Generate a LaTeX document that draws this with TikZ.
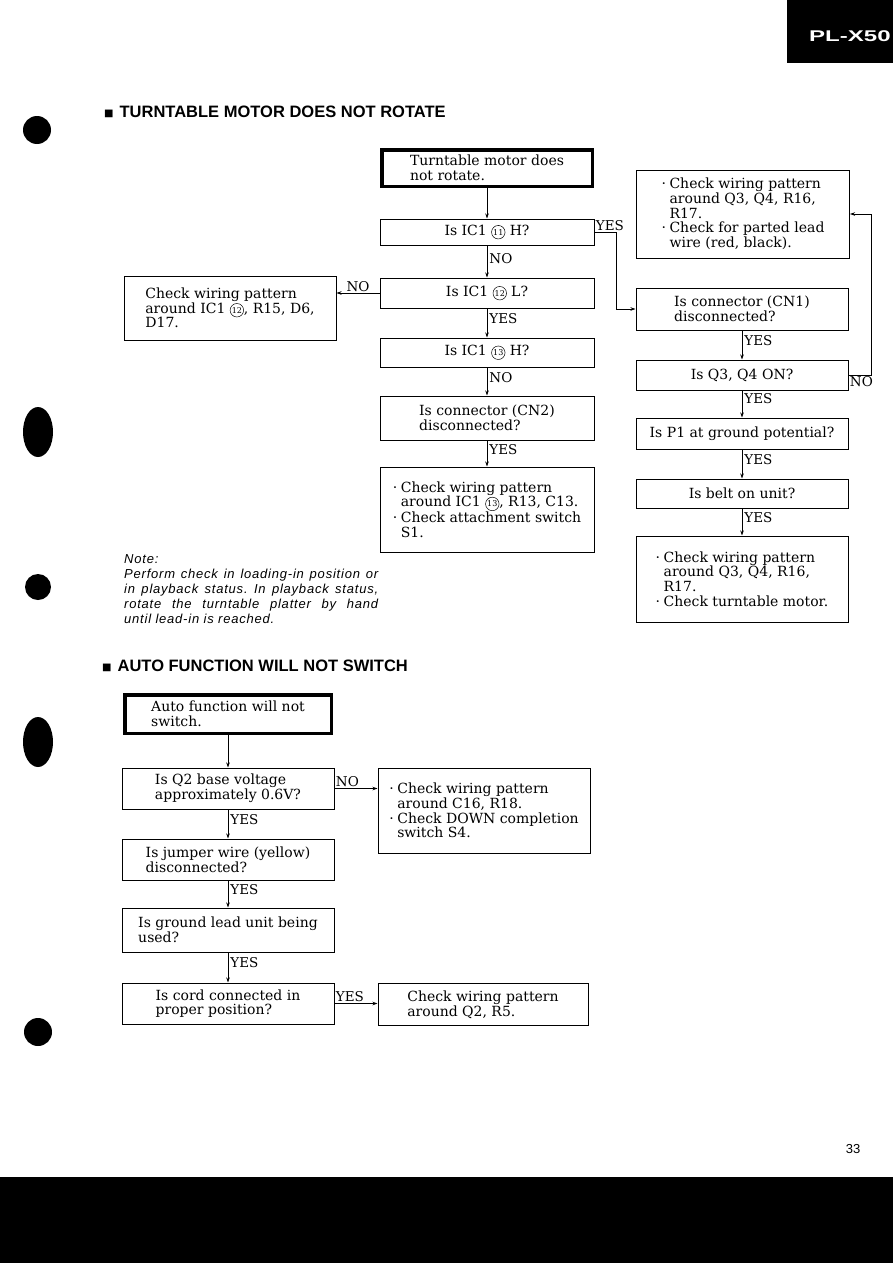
\documentclass[tikz,border=0pt]{standalone}
\usepackage{fontspec}
\setmainfont{DejaVu Serif}
\newfontfamily\headfont{Liberation Sans}
\newfontfamily\notefont[LetterSpace=6]{Liberation Sans}
\newfontfamily\symfont{DejaVu Sans}
\usetikzlibrary{arrows.meta}
\newcommand{\cn}[1]{\tikz[baseline=(cnn.base)]\node[circle,draw,line width=0.5pt,inner sep=0pt,minimum size=13.5pt,font=\fontsize{8}{8}\selectfont](cnn){#1};}
\newcommand{\bul}{\makebox[8pt][l]{·}}
\newcommand{\ind}{\hspace*{8pt}}
\newcommand{\sq}{{\symfont\fontsize{10}{10}\selectfont\raisebox{1.2pt}{■}}}
\tikzset{
  box/.style={draw, line width=1pt, inner sep=0pt, align=left, font=\fontsize{14}{14.7}\selectfont},
  startbox/.style={box, line width=3.5pt},
  arr/.style={-{Stealth[length=5pt,width=3.5pt]}, line width=0.9pt},
  lbl/.style={font=\fontsize{13.5}{14}\selectfont, inner sep=2pt},
  title/.style={anchor=west, inner sep=0pt, font=\headfont\bfseries\fontsize{16.5}{19}\selectfont},
}
\begin{document}
\begin{tikzpicture}[x=1pt,y=-1pt]
\useasboundingbox (0,0) rectangle (893,1263);
\fill[white] (0,0) rectangle (893,1263);
% page furniture
\fill[black] (0,1177) rectangle (893,1263);
\fill[black] (787,0) rectangle (893,63);
\node[white, anchor=base west, inner sep=0pt] (hdr) at (809,42) {\scalebox{1.55}[1]{\headfont\bfseries\fontsize{15.5}{15.5}\selectfont PL-X50}};
\node[inner sep=0pt, font=\headfont\fontsize{13}{13}\selectfont] (pg) at (853,1149) {33};
% punch holes
\fill (37,130) circle (14pt);
\fill (38,432) ellipse (15pt and 25pt);
\fill (38,587) circle (13pt);
\fill (38,742) ellipse (15pt and 25pt);
\fill (38,1032) circle (14pt);
% titles
\node[title] (t1) at (104,112) {\sq\hspace{6pt}TURNTABLE MOTOR DOES NOT ROTATE};
\node[title] (t2) at (102,666) {\sq\hspace{6pt}AUTO FUNCTION WILL NOT SWITCH};

% ---------- top flowchart ----------
\node[startbox, minimum width=210.5pt, minimum height=36.5pt] (start) at (487,168) {Turntable motor does\\not rotate.};
\node[box, minimum width=214pt, minimum height=26pt] (q1) at (487,232) {Is IC1 \cn{11} H?};
\node[box, minimum width=214pt, minimum height=30pt] (q2) at (487,293) {Is IC1 \cn{12} L?};
\node[box, minimum width=212pt, minimum height=64pt] (c1) at (230,308) {Check wiring pattern\\around IC1 \cn{12}, R15, D6,\\D17.};
\node[box, minimum width=214pt, minimum height=29pt] (q3) at (487,352.5) {Is IC1 \cn{13} H?};
\node[box, minimum width=214pt, minimum height=44pt] (q4) at (487,418) {Is connector (CN2)\\disconnected?};
\node[box, minimum width=214pt, minimum height=85pt] (c2) at (487,509.5) {\bul Check wiring pattern\\\ind around IC1 \cn{13}, R13, C13.\\\bul Check attachment switch\\\ind S1.};

\node[box, minimum width=213pt, minimum height=88pt] (c3) at (743,214) {\bul Check wiring pattern\\\ind around Q3, Q4, R16,\\\ind R17.\\\bul Check for parted lead\\\ind wire (red, black).};
\node[box, minimum width=212pt, minimum height=42pt] (r1) at (742,309) {Is connector (CN1)\\disconnected?};
\node[box, minimum width=212pt, minimum height=30pt] (r2) at (742,375) {Is Q3, Q4 ON?};
\node[box, minimum width=212pt, minimum height=31pt] (r3) at (742,433.5) {Is P1 at ground potential?};
\node[box, minimum width=212pt, minimum height=29pt] (r4) at (742,493.5) {Is belt on unit?};
\node[box, minimum width=212pt, minimum height=86pt] (c4) at (742,579) {\bul Check wiring pattern\\\ind around Q3, Q4, R16,\\\ind R17.\\\bul Check turntable motor.};

\draw[arr] (start) -- (q1);
\draw[arr] (q1) -- node[lbl, anchor=west, pos=0.4] {NO} (q2);
\draw[arr] (q2.west) -- node[lbl, anchor=south, pos=0.5, inner sep=1pt] {NO} (q2.west -| c1.east);
\draw[arr] (q2) -- node[lbl, anchor=west, pos=0.35] {YES} (q3);
\draw[arr] (q3) -- node[lbl, anchor=west, pos=0.35] {NO} (q4);
\draw[arr] (q4) -- node[lbl, anchor=west, pos=0.35] {YES} (c2);
\draw[arr] (q1.east) -- node[lbl, anchor=south west, pos=0, inner sep=1pt] {YES} ++(22,0) |- (r1.west);
\draw[arr] (r1) -- node[lbl, anchor=west, pos=0.35] {YES} (r2);
\draw[arr] (r2) -- node[lbl, anchor=west, pos=0.3] {YES} (r3);
\draw[arr] (r3) -- node[lbl, anchor=west, pos=0.35] {YES} (r4);
\draw[arr] (r4) -- node[lbl, anchor=west, pos=0.35] {YES} (c4);
\draw[arr] (r2.east) -- node[lbl, anchor=north west, pos=0, inner sep=1pt] {NO} ++(23,0) |- (c3.east);

% note
\node[anchor=north west, inner sep=0pt, text width=254pt, align=justify, font=\notefont\itshape\fontsize{13}{15}\selectfont\frenchspacing] (note) at (124,554) {Note:\\Perform check in loading-in position or\linebreak in playback status. In playback status,\linebreak rotate the turntable platter by hand\linebreak until lead-in is reached.};

% ---------- bottom flowchart ----------
\node[startbox, minimum width=206.5pt, minimum height=38.5pt] (s2) at (228,714) {Auto function will not\\switch.};
\node[box, minimum width=212pt, minimum height=41pt] (b1) at (228,788.5) {Is Q2 base voltage\\approximately 0.6V?};
\node[box, minimum width=212pt, minimum height=85pt] (c5) at (484,810.5) {\bul Check wiring pattern\\\ind around C16, R18.\\\bul Check DOWN completion\\\ind switch S4.};
\node[box, minimum width=212pt, minimum height=41pt] (b2) at (228,859.5) {Is jumper wire (yellow)\\disconnected?};
\node[box, minimum width=212pt, minimum height=44pt] (b3) at (228,930) {Is ground lead unit being\\used?};
\node[box, minimum width=212pt, minimum height=41pt] (b4) at (228,1003.5) {Is cord connected in\\proper position?};
\node[box, minimum width=210pt, minimum height=42pt] (c6) at (483,1004.5) {Check wiring pattern\\around Q2, R5.};

\draw[arr] (s2) -- (b1);
\draw[arr] (b1.east) -- node[lbl, anchor=south west, pos=0, inner sep=1pt] {NO} (b1.east -| c5.west);
\draw[arr] (b1) -- node[lbl, anchor=west, pos=0.35] {YES} (b2);
\draw[arr] (b2) -- node[lbl, anchor=west, pos=0.35] {YES} (b3);
\draw[arr] (b3) -- node[lbl, anchor=west, pos=0.35] {YES} (b4);
\draw[arr] (b4.east) -- node[lbl, anchor=south west, pos=0, inner sep=1pt] {YES} (b4.east -| c6.west);
\end{tikzpicture}
\end{document}
